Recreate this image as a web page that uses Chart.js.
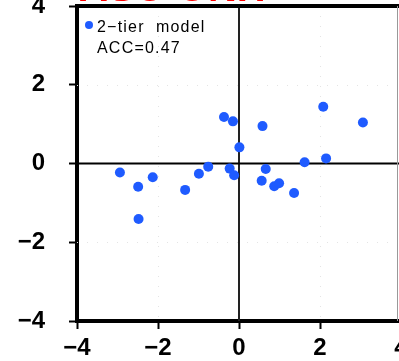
<!DOCTYPE html>
<html>
<head>
<meta charset="utf-8">
<script src="https://cdn.jsdelivr.net/npm/chart.js@4/dist/chart.umd.min.js"></script>
<style>
    html, body { margin: 0; padding: 0; background: #fff; overflow: hidden; width: 399px; height: 361px; }
    #wrap { position: absolute; left: 0; top: -40px; width: 420px; height: 405px; }
</style>
</head>
<body>
<div id="wrap"><canvas id="scatterChart"></canvas></div>
<script>
// 2-tier model scatter (one point per member)
const xVals = [-2.94, -2.49, -2.13, -2.48, -1.33, -0.99, -0.76, -0.37, -0.15, -0.23, -0.12,
               0.01, 0.58, 0.56, 0.66, 0.87, 0.99, 1.36, 1.62, 2.08, 2.15, 3.06];
const yVals = [-0.23, -0.59, -0.35, -1.41, -0.67, -0.26, -0.08, 1.18, 1.07, -0.13, -0.30,
               0.41, 0.95, -0.44, -0.14, -0.58, -0.50, -0.75, 0.03, 1.44, 0.13, 1.04];
const tickVals = [-4, -2, 0, 2, 4];
const seriesName = '2\u2212tier  model';
const accText = 'ACC=0.47';
const titleText = 'ASO ONH';

const FONT = '"Liberation Sans", Arial, Helvetica, sans-serif';
const BLUE = '#1f5bff';

const points = xVals.map((x, i) => ({ x: x, y: yVals[i] }));

const minusFmt = v => String(v).replace('-', '\u2212');

// zero lines, dotted guides, top/right frame, title and legend box
const decorations = {
    id: 'decorations',
    beforeDatasetsDraw(chart) {
        const { ctx, chartArea: a, scales: { x, y } } = chart;
        ctx.save();
        // dotted guides at +-2
        ctx.strokeStyle = '#e4e4e4';
        ctx.lineWidth = 1;
        ctx.setLineDash([1, 9]);
        [-2, 2].forEach(v => {
            const px = Math.round(x.getPixelForValue(v)) + 0.5;
            const py = Math.round(y.getPixelForValue(v)) + 0.5;
            ctx.beginPath(); ctx.moveTo(px, a.top); ctx.lineTo(px, a.bottom); ctx.stroke();
            ctx.beginPath(); ctx.moveTo(a.left, py); ctx.lineTo(a.right, py); ctx.stroke();
        });
        ctx.setLineDash([]);
        // zero lines
        ctx.strokeStyle = '#222';
        ctx.lineWidth = 2;
        const x0 = x.getPixelForValue(0);
        const y0 = y.getPixelForValue(0);
        ctx.beginPath(); ctx.moveTo(x0, a.top); ctx.lineTo(x0, a.bottom); ctx.stroke();
        ctx.strokeStyle = '#000';
        ctx.beginPath(); ctx.moveTo(a.left, y0); ctx.lineTo(a.right, y0); ctx.stroke();
        ctx.restore();
    },
    afterDraw(chart) {
        const { ctx, chartArea: a } = chart;
        ctx.save();
        // top frame
        ctx.strokeStyle = '#000';
        ctx.lineWidth = 4;
        ctx.beginPath(); ctx.moveTo(a.left - 2, a.top); ctx.lineTo(a.right, a.top); ctx.stroke();
        // thin right edge
        ctx.strokeStyle = '#999';
        ctx.lineWidth = 1;
        ctx.beginPath(); ctx.moveTo(397.5, a.top); ctx.lineTo(397.5, a.bottom); ctx.stroke();

        // title, mostly above the visible page
        ctx.fillStyle = '#ff0000';
        ctx.font = 'bold 40px ' + FONT;
        ctx.textBaseline = 'alphabetic';
        ctx.textAlign = 'left';
        ctx.fillText(titleText, a.left + 2, a.top - 5);

        // legend
        ctx.fillStyle = BLUE;
        ctx.beginPath(); ctx.arc(a.left + 12, a.top + 19, 4, 0, Math.PI * 2); ctx.fill();
        ctx.fillStyle = '#000';
        ctx.font = '16px ' + FONT;
        ctx.letterSpacing = '1.2px';
        ctx.fillText(seriesName, a.left + 20, a.top + 26);
        ctx.fillText(accText, a.left + 20, a.top + 47);
        ctx.restore();
    }
};

const ctx = document.getElementById('scatterChart');
new Chart(ctx.getContext('2d'), {
    type: 'scatter',
    data: {
        datasets: [{
            label: seriesName,
            data: points,
            backgroundColor: BLUE,
            borderWidth: 0,
            pointRadius: 5,
            pointHoverRadius: 5
        }]
    },
    options: {
        responsive: true,
        maintainAspectRatio: false,
        animation: false,
        events: [],
        layout: { padding: { top: 46, right: 19, bottom: 0, left: 0 } },
        plugins: { legend: { display: false }, tooltip: { enabled: false } },
        scales: {
            x: {
                type: 'linear',
                min: -4, max: 4,
                afterBuildTicks: s => { s.ticks = tickVals.map(v => ({ value: v })); },
                afterFit: s => { s.height = 44; },
                grid: { drawOnChartArea: false, drawTicks: true, tickLength: 8, tickColor: '#000', tickWidth: 2 },
                border: { display: true, color: '#000', width: 4 },
                ticks: {
                    color: '#000',
                    padding: 5,
                    maxRotation: 0,
                    font: { family: FONT, size: 24, weight: 'bold' },
                    callback: minusFmt
                }
            },
            y: {
                type: 'linear',
                min: -4, max: 4,
                afterBuildTicks: s => { s.ticks = tickVals.map(v => ({ value: v })); },
                afterFit: s => { s.width = 77; },
                grid: { drawOnChartArea: false, drawTicks: true, tickLength: 8, tickColor: '#000', tickWidth: 2 },
                border: { display: true, color: '#000', width: 4 },
                ticks: {
                    color: '#000',
                    padding: 24,
                    font: { family: FONT, size: 24, weight: 'bold' },
                    callback: minusFmt
                }
            }
        }
    },
    plugins: [decorations]
});
</script>
</body>
</html>
